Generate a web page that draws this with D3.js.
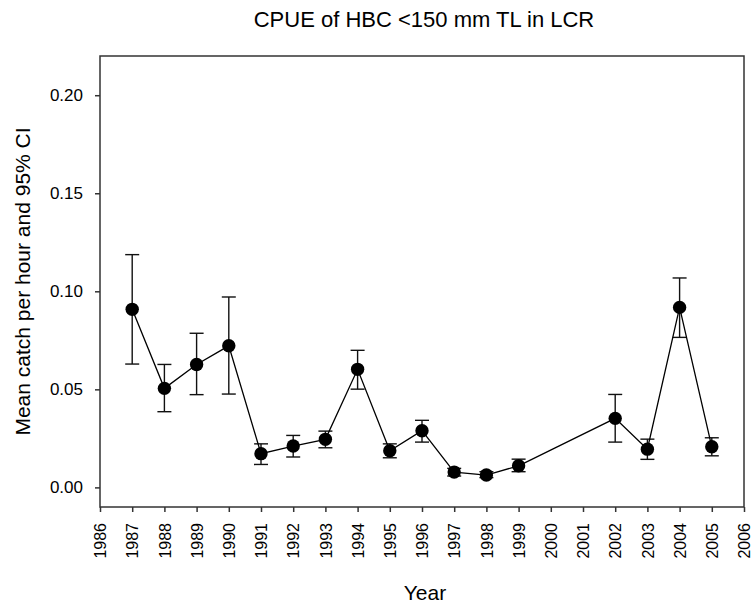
<!DOCTYPE html>
<html><head><meta charset="utf-8">
<script src="https://cdn.jsdelivr.net/npm/d3@7"></script>
<style>body{margin:0;background:#fff}svg{display:block}text{font-family:"Liberation Sans",Arial,sans-serif;fill:#000}</style>
</head><body><svg id="c" width="755" height="607"></svg>
<script>
const years = [1987,1988,1989,1990,1991,1992,1993,1994,1995,1996,1997,1998,1999,2002,2003,2004,2005];
const means = [0.0908,0.0505,0.0627,0.0722,0.0172,0.0211,0.0245,0.0602,0.0187,0.0289,0.0078,0.0063,0.0110,0.0352,0.0195,0.0918,0.0207];
const upper = [0.1187,0.0627,0.0786,0.0971,0.0222,0.0265,0.0287,0.0699,0.0222,0.0342,0.0097,0.0080,0.0144,0.0474,0.0246,0.1068,0.0253];
const lower = [0.0629,0.0386,0.0473,0.0476,0.0117,0.0155,0.0202,0.0501,0.0151,0.0231,0.0058,0.0050,0.0080,0.0231,0.0143,0.0765,0.0161];
const xTicks = d3.range(1986,2007);
const yTicks = [0.00,0.05,0.10,0.15,0.20];
const title = "CPUE of HBC <150 mm TL in LCR";
const xLabel = "Year";
const yLabel = "Mean catch per hour and 95% CI";

const L=100,R=744,T=56,B=507;
const svg=d3.select("#c");
const x=d3.scaleLinear().domain([1986,2006]).range([L,R]);
const y=d3.scaleLinear().domain([-0.01,0.22]).range([B,T]);
const data=years.map((yr,i)=>({yr,m:means[i],u:upper[i],l:lower[i]}));

// frame
svg.append("rect").attr("x",L).attr("y",T).attr("width",R-L).attr("height",B-T)
  .attr("fill","none").attr("stroke","#333").attr("stroke-width",1.5);

// axes
const xa=svg.append("g").attr("transform",`translate(0,${B})`)
  .call(d3.axisBottom(x).tickValues(xTicks).tickFormat(d3.format("d")).tickSize(5).tickSizeOuter(0));
xa.select(".domain").remove();
xa.selectAll("line").attr("stroke","#333").attr("stroke-width",1.5);
xa.selectAll("text").attr("transform","rotate(-90)").attr("text-anchor","end")
  .attr("x",-16).attr("y",0).attr("dy","0.35em").style("font-size","16px").style("font-family","Liberation Sans, Arial, sans-serif");

const ya=svg.append("g").attr("transform",`translate(${L},0)`)
  .call(d3.axisLeft(y).tickValues(yTicks).tickFormat(d3.format(".2f")).tickSize(5).tickSizeOuter(0));
ya.select(".domain").remove();
ya.selectAll("line").attr("stroke","#333").attr("stroke-width",1.5);
ya.selectAll("text").attr("x",-17).style("font-size","17px").style("font-family","Liberation Sans, Arial, sans-serif");

// error bars
const eb=svg.append("g").attr("stroke","#111").attr("stroke-width",1.4);
data.forEach(d=>{
  eb.append("line").attr("x1",x(d.yr)).attr("x2",x(d.yr)).attr("y1",y(d.u)).attr("y2",y(d.l));
  eb.append("line").attr("x1",x(d.yr)-7).attr("x2",x(d.yr)+7).attr("y1",y(d.u)).attr("y2",y(d.u));
  eb.append("line").attr("x1",x(d.yr)-7).attr("x2",x(d.yr)+7).attr("y1",y(d.l)).attr("y2",y(d.l));
});

// line
svg.append("path").datum(data).attr("fill","none").attr("stroke","#000").attr("stroke-width",1.3)
  .attr("d",d3.line().x(d=>x(d.yr)).y(d=>y(d.m)));

// points
svg.append("g").selectAll("circle").data(data).join("circle")
  .attr("cx",d=>x(d.yr)).attr("cy",d=>y(d.m)).attr("r",6.7).attr("fill","#000");

// labels
svg.append("text").attr("x",(L+R)/2+2).attr("y",27).attr("text-anchor","middle").style("font-size","22px").text(title);
svg.append("text").attr("x",(L+R)/2+3).attr("y",600).attr("text-anchor","middle").style("font-size","21px").text(xLabel);
svg.append("text").attr("transform",`translate(30,${(T+B)/2}) rotate(-90)`).attr("text-anchor","middle").style("font-size","21px").text(yLabel);
</script></body></html>
